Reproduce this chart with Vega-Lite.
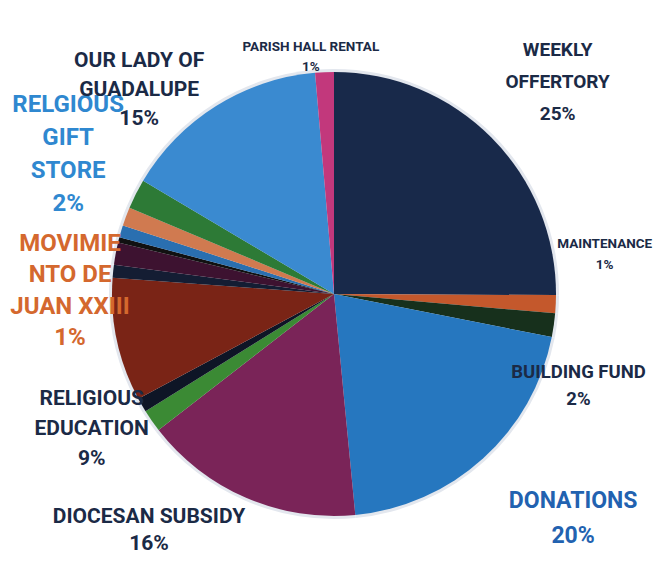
{
  "$schema": "https://vega.github.io/schema/vega-lite/v6.json",
  "width": 648,
  "height": 572,
  "autosize": {"type": "none"},
  "padding": {"left": 10, "top": 8, "right": 0, "bottom": 0},
  "background": "white",
  "config": {"view": {"stroke": null}},
  "data": {
    "values": [
      {"k": 1, "cat": "WEEKLY OFFERTORY", "pct": 25.08, "label": "WEEKLY\nOFFERTORY\n25%"},
      {"k": 2, "cat": "MAINTENANCE", "pct": 1.31, "label": "MAINTENANCE\n1%"},
      {"k": 3, "cat": "BUILDING FUND", "pct": 1.72, "label": "BUILDING FUND\n2%"},
      {"k": 4, "cat": "DONATIONS", "pct": 20.36, "label": "DONATIONS\n20%"},
      {"k": 5, "cat": "DIOCESAN SUBSIDY", "pct": 16.03, "label": "DIOCESAN SUBSIDY\n16%"},
      {"k": 6, "cat": "OTHER 1", "pct": 1.64, "label": ""},
      {"k": 7, "cat": "OTHER 2", "pct": 1.03, "label": ""},
      {"k": 8, "cat": "RELIGIOUS EDUCATION", "pct": 9.0, "label": "RELIGIOUS\nEDUCATION\n9%"},
      {"k": 9, "cat": "OTHER 3", "pct": 0.94, "label": ""},
      {"k": 10, "cat": "OTHER 4", "pct": 1.61, "label": ""},
      {"k": 11, "cat": "OTHER 5", "pct": 0.39, "label": ""},
      {"k": 12, "cat": "OTHER 6", "pct": 0.89, "label": ""},
      {"k": 13, "cat": "MOVIMIENTO DE JUAN XXIII", "pct": 1.36, "label": "MOVIMIE\nNTO DE\nJUAN XXIII\n1%"},
      {"k": 14, "cat": "RELGIOUS GIFT STORE", "pct": 2.17, "label": "RELGIOUS\nGIFT\nSTORE\n2%"},
      {"k": 15, "cat": "OUR LADY OF GUADALUPE", "pct": 15.11, "label": "OUR LADY OF\nGUADALUPE\n15%"},
      {"k": 16, "cat": "PARISH HALL RENTAL", "pct": 1.36, "label": "PARISH HALL RENTAL\n1%"}
    ]
  },
  "encoding": {
    "theta": {"field": "pct", "type": "quantitative", "stack": true},
    "order": {"field": "k", "type": "quantitative"}
  },
  "layer": [
    {
      "mark": {"type": "arc", "outerRadius": 225, "color": "#e3e7ee"}
    },
    {
      "mark": {"type": "arc", "outerRadius": 222},
      "encoding": {
        "color": {
          "field": "cat",
          "type": "nominal",
          "legend": null,
          "scale": {
            "domain": ["WEEKLY OFFERTORY", "MAINTENANCE", "BUILDING FUND", "DONATIONS", "DIOCESAN SUBSIDY", "OTHER 1", "OTHER 2", "RELIGIOUS EDUCATION", "OTHER 3", "OTHER 4", "OTHER 5", "OTHER 6", "MOVIMIENTO DE JUAN XXIII", "RELGIOUS GIFT STORE", "OUR LADY OF GUADALUPE", "PARISH HALL RENTAL"],
            "range": ["#18294a", "#c4582c", "#17301c", "#2677bf", "#7a2458", "#3b8a34", "#0e1526", "#7a2416", "#141d33", "#3d1230", "#111111", "#2a6fb0", "#d07a50", "#2d7a36", "#3a8ad0", "#c2387c"]
          }
        }
      }
    },
    {
      "mark": {"type": "text", "radius": 300, "dx": 11, "dy": -32, "font": "Roboto", "fontWeight": "bold", "fontSize": 19, "lineHeight": 32, "lineBreak": "\n", "align": "center", "baseline": "middle", "fill": "#1b2a46"},
      "encoding": {"text": {"condition": {"test": "datum.k === 1", "field": "label"}, "value": ""}}
    },
    {
      "mark": {"type": "text", "radius": 268, "dx": 3, "dy": -62, "font": "Roboto", "fontWeight": "bold", "fontSize": 13.5, "lineHeight": 21, "lineBreak": "\n", "align": "center", "baseline": "middle", "fill": "#1b2a46"},
      "encoding": {"text": {"condition": {"test": "datum.k === 2", "field": "label"}, "value": ""}}
    },
    {
      "mark": {"type": "text", "radius": 250, "dx": -3, "dy": 43, "font": "Roboto", "fontWeight": "bold", "fontSize": 18.5, "lineHeight": 27, "lineBreak": "\n", "align": "center", "baseline": "middle", "fill": "#1b2a46"},
      "encoding": {"text": {"condition": {"test": "datum.k === 3", "field": "label"}, "value": ""}}
    },
    {
      "mark": {"type": "text", "radius": 325, "dx": 21, "dy": -34, "font": "Roboto", "fontWeight": "bold", "fontSize": 23, "lineHeight": 35, "lineBreak": "\n", "align": "center", "baseline": "middle", "fill": "#2262b0"},
      "encoding": {"text": {"condition": {"test": "datum.k === 4", "field": "label"}, "value": ""}}
    },
    {
      "mark": {"type": "text", "radius": 260, "dx": -82, "dy": -16, "font": "Roboto", "fontWeight": "bold", "fontSize": 21, "lineHeight": 27, "lineBreak": "\n", "align": "center", "baseline": "middle", "fill": "#1b2a46"},
      "encoding": {"text": {"condition": {"test": "datum.k === 5", "field": "label"}, "value": ""}}
    },
    {
      "mark": {"type": "text", "radius": 260, "dx": 12, "dy": 51, "font": "Roboto", "fontWeight": "bold", "fontSize": 21, "lineHeight": 30, "lineBreak": "\n", "align": "center", "baseline": "middle", "fill": "#1b2a46"},
      "encoding": {"text": {"condition": {"test": "datum.k === 8", "field": "label"}, "value": ""}}
    },
    {
      "mark": {"type": "text", "radius": 270, "dx": -11, "dy": 44, "font": "Roboto", "fontWeight": "bold", "fontSize": 24, "lineHeight": 31.5, "lineBreak": "\n", "align": "center", "baseline": "middle", "fill": "#d4682e"},
      "encoding": {"text": {"condition": {"test": "datum.k === 13", "field": "label"}, "value": ""}}
    },
    {
      "mark": {"type": "text", "radius": 290, "dx": -7, "dy": -58, "font": "Roboto", "fontWeight": "bold", "fontSize": 24, "lineHeight": 33, "lineBreak": "\n", "align": "center", "baseline": "middle", "fill": "#2f88d0"},
      "encoding": {"text": {"condition": {"test": "datum.k === 14", "field": "label"}, "value": ""}}
    },
    {
      "mark": {"type": "text", "radius": 282, "dx": -45, "dy": 6, "font": "Roboto", "fontWeight": "bold", "fontSize": 21, "lineHeight": 29, "lineBreak": "\n", "align": "center", "baseline": "middle", "fill": "#1b2a46"},
      "encoding": {"text": {"condition": {"test": "datum.k === 15", "field": "label"}, "value": ""}}
    },
    {
      "mark": {"type": "text", "radius": 238, "dx": -13, "dy": -9, "font": "Roboto", "fontWeight": "bold", "fontSize": 13.5, "lineHeight": 20, "lineBreak": "\n", "align": "center", "baseline": "middle", "fill": "#1b2a46"},
      "encoding": {"text": {"condition": {"test": "datum.k === 16", "field": "label"}, "value": ""}}
    }
  ]
}
